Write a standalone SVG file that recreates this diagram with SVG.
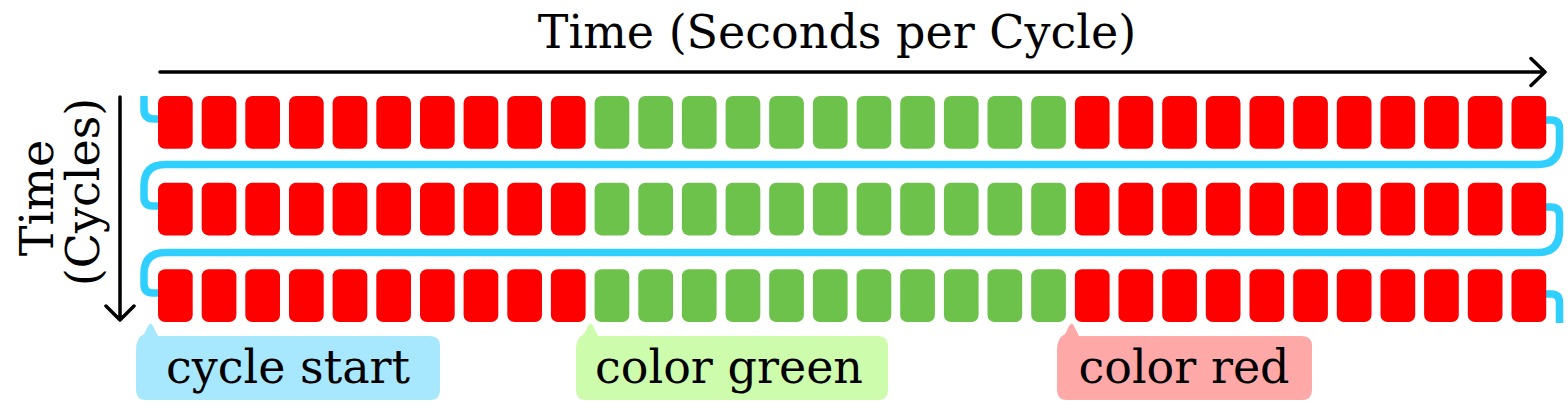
<svg xmlns="http://www.w3.org/2000/svg" xmlns:xlink="http://www.w3.org/1999/xlink" width="1568" height="416" viewBox="0 0 1568 416">
<style>
.t{font-family:"DejaVu Serif","Liberation Serif",serif;font-size:46px;fill:#000}
.r{fill:#ff0000}
.g{fill:#6cc24a}
.ax{stroke:#000;stroke-width:3.5;fill:none;stroke-linecap:round;stroke-linejoin:round}
.flow{stroke:#2fcfff;stroke-width:7.5;fill:none}
</style>
<defs>
<rect id="c" x="0" y="0" width="34.7" height="52.7" rx="7"/>
</defs>
<rect width="1568" height="416" fill="#fff"/>
<g id="title"><text class="t" x="837" y="48" text-anchor="middle">Time (Seconds per Cycle)</text></g>
<g id="side-label" transform="translate(0,192) rotate(-90)">
<text class="t" x="-6" y="53" text-anchor="middle">Time</text>
<text class="t" x="0" y="99" text-anchor="middle">(Cycles)</text>
</g>
<g id="axes">
<path class="ax" d="M160,72 H1544 M1531,58.5 L1545,72 L1531,85.5"/>
<path class="ax" d="M120,97 V319 M106,306 L120,320 L134,306"/>
</g>
<g id="connectors">
<path class="flow" d="M144,96 V109 Q144,119 154,119 H164"/>
<path class="flow" d="M1544,120 H1551 Q1559.5,120 1559.5,128.5 V143 Q1559.5,164.5 1538,164.5 H165.5 Q144,164.5 144,186 V197 Q144,206 153,206 H164"/>
<path class="flow" d="M1544,207 H1551 Q1559.5,207 1559.5,215.5 V230 Q1559.5,252.5 1538,252.5 H165.5 Q144,252.5 144,274 V284 Q144,293 153,293 H164"/>
<path class="flow" d="M1544,294 H1551 Q1559.5,294 1559.5,302.5 V323"/>
</g>
<g id="row1" transform="translate(0,96)">
<use href="#c" class="r" x="158"/><use href="#c" class="r" x="201.7"/><use href="#c" class="r" x="245.3"/><use href="#c" class="r" x="289"/><use href="#c" class="r" x="332.6"/><use href="#c" class="r" x="376.3"/><use href="#c" class="r" x="420"/><use href="#c" class="r" x="463.6"/><use href="#c" class="r" x="507.3"/><use href="#c" class="r" x="550.9"/>
<use href="#c" class="g" x="594.6"/><use href="#c" class="g" x="638.3"/><use href="#c" class="g" x="681.9"/><use href="#c" class="g" x="725.6"/><use href="#c" class="g" x="769.2"/><use href="#c" class="g" x="812.9"/><use href="#c" class="g" x="856.6"/><use href="#c" class="g" x="900.2"/><use href="#c" class="g" x="943.9"/><use href="#c" class="g" x="987.5"/><use href="#c" class="g" x="1031.2"/>
<use href="#c" class="r" x="1074.9"/><use href="#c" class="r" x="1118.5"/><use href="#c" class="r" x="1162.2"/><use href="#c" class="r" x="1205.8"/><use href="#c" class="r" x="1249.5"/><use href="#c" class="r" x="1293.2"/><use href="#c" class="r" x="1336.8"/><use href="#c" class="r" x="1380.5"/><use href="#c" class="r" x="1424.1"/><use href="#c" class="r" x="1467.8"/><use href="#c" class="r" x="1511.5"/>
</g>
<g id="row2" transform="translate(0,182.7)">
<use href="#c" class="r" x="158"/><use href="#c" class="r" x="201.7"/><use href="#c" class="r" x="245.3"/><use href="#c" class="r" x="289"/><use href="#c" class="r" x="332.6"/><use href="#c" class="r" x="376.3"/><use href="#c" class="r" x="420"/><use href="#c" class="r" x="463.6"/><use href="#c" class="r" x="507.3"/><use href="#c" class="r" x="550.9"/>
<use href="#c" class="g" x="594.6"/><use href="#c" class="g" x="638.3"/><use href="#c" class="g" x="681.9"/><use href="#c" class="g" x="725.6"/><use href="#c" class="g" x="769.2"/><use href="#c" class="g" x="812.9"/><use href="#c" class="g" x="856.6"/><use href="#c" class="g" x="900.2"/><use href="#c" class="g" x="943.9"/><use href="#c" class="g" x="987.5"/><use href="#c" class="g" x="1031.2"/>
<use href="#c" class="r" x="1074.9"/><use href="#c" class="r" x="1118.5"/><use href="#c" class="r" x="1162.2"/><use href="#c" class="r" x="1205.8"/><use href="#c" class="r" x="1249.5"/><use href="#c" class="r" x="1293.2"/><use href="#c" class="r" x="1336.8"/><use href="#c" class="r" x="1380.5"/><use href="#c" class="r" x="1424.1"/><use href="#c" class="r" x="1467.8"/><use href="#c" class="r" x="1511.5"/>
</g>
<g id="row3" transform="translate(0,269.3)">
<use href="#c" class="r" x="158"/><use href="#c" class="r" x="201.7"/><use href="#c" class="r" x="245.3"/><use href="#c" class="r" x="289"/><use href="#c" class="r" x="332.6"/><use href="#c" class="r" x="376.3"/><use href="#c" class="r" x="420"/><use href="#c" class="r" x="463.6"/><use href="#c" class="r" x="507.3"/><use href="#c" class="r" x="550.9"/>
<use href="#c" class="g" x="594.6"/><use href="#c" class="g" x="638.3"/><use href="#c" class="g" x="681.9"/><use href="#c" class="g" x="725.6"/><use href="#c" class="g" x="769.2"/><use href="#c" class="g" x="812.9"/><use href="#c" class="g" x="856.6"/><use href="#c" class="g" x="900.2"/><use href="#c" class="g" x="943.9"/><use href="#c" class="g" x="987.5"/><use href="#c" class="g" x="1031.2"/>
<use href="#c" class="r" x="1074.9"/><use href="#c" class="r" x="1118.5"/><use href="#c" class="r" x="1162.2"/><use href="#c" class="r" x="1205.8"/><use href="#c" class="r" x="1249.5"/><use href="#c" class="r" x="1293.2"/><use href="#c" class="r" x="1336.8"/><use href="#c" class="r" x="1380.5"/><use href="#c" class="r" x="1424.1"/><use href="#c" class="r" x="1467.8"/><use href="#c" class="r" x="1511.5"/>
</g>
<g id="callout-cycle-start">
<path fill="#a8e8fe" d="M136,350 Q136,338 144,334 L148,326 Q151,321 153,326 L158,336 H430 Q440,336 440,346 V390 Q440,400 430,400 H146 Q136,400 136,390 Z"/>
<text class="t" x="288" y="383" text-anchor="middle">cycle start</text>
</g>
<g id="callout-color-green">
<path fill="#ccfcac" d="M576,350 Q576,338 584,334 L588,326 Q591,321 593,326 L598,336 H878 Q888,336 888,346 V390 Q888,400 878,400 H586 Q576,400 576,390 Z"/>
<text class="t" x="729" y="383" text-anchor="middle">color green</text>
</g>
<g id="callout-color-red">
<path fill="#fea8a8" d="M1057,350 Q1057,338 1065,334 L1069,326 Q1072,321 1074,326 L1079,336 H1302 Q1312,336 1312,346 V390 Q1312,400 1302,400 H1067 Q1057,400 1057,390 Z"/>
<text class="t" x="1184" y="383" text-anchor="middle">color red</text>
</g>
</svg>
